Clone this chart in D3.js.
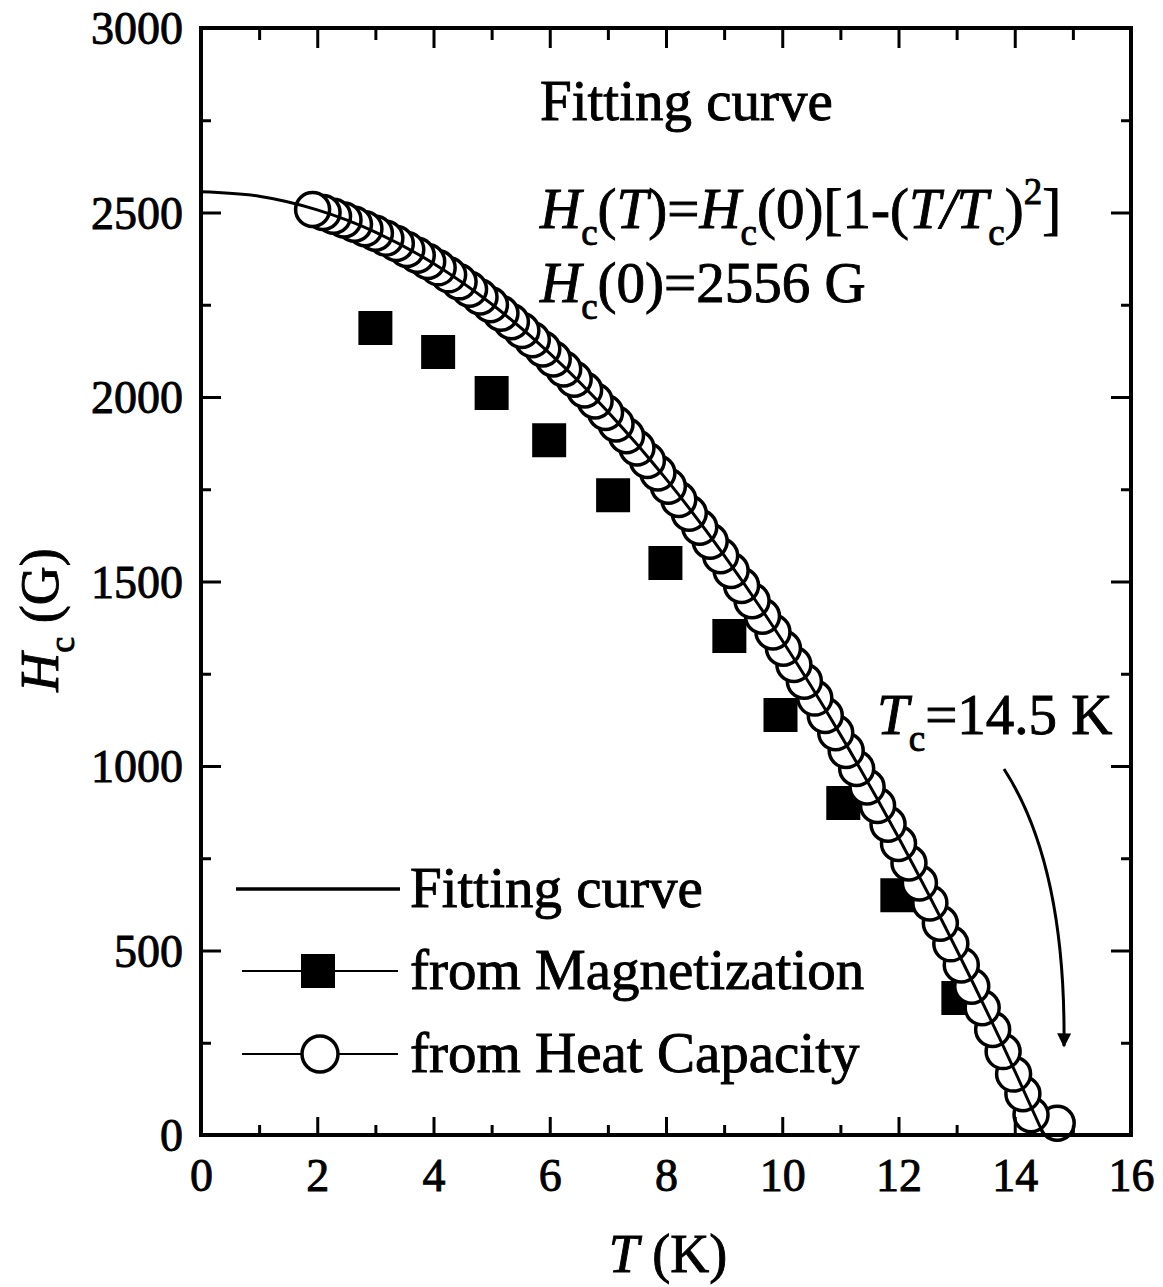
<!DOCTYPE html>
<html>
<head>
<meta charset="utf-8">
<script src="https://cdn.jsdelivr.net/npm/d3@7"></script>
<style>
  body { margin: 0; background: #fff; }
  svg text { font-family: "Liberation Serif", "Times New Roman", serif; fill: #000; stroke: #000; stroke-width: 0.9px; }
</style>
</head>
<body>
<svg id="chart" width="1163" height="1287"></svg>
<script>
// magnetization data (T in K, Hc in G)
var magT = [3.0, 4.08, 5.0, 5.99, 7.09, 7.99, 9.09, 9.97, 11.05, 11.98, 13.03];
var magH = [2187, 2122, 2011, 1883, 1734, 1550, 1352, 1138, 900, 650, 371];

// heat capacity data
var heatT = [1.92, 2.10, 2.28, 2.46, 2.64, 2.82, 3.00, 3.18, 3.36, 3.54,
             3.72, 3.90, 4.08, 4.26, 4.44, 4.62, 4.80, 4.98, 5.16, 5.34,
             5.52, 5.70, 5.88, 6.06, 6.24, 6.42, 6.60, 6.78, 6.96, 7.14,
             7.32, 7.50, 7.68, 7.86, 8.04, 8.22, 8.40, 8.58, 8.76, 8.94,
             9.12, 9.30, 9.48, 9.66, 9.84, 10.02, 10.20, 10.38, 10.56, 10.74,
             10.92, 11.10, 11.28, 11.46, 11.64, 11.82, 12.00, 12.18, 12.36, 12.54,
             12.72, 12.90, 13.08, 13.26, 13.44, 13.62, 13.80, 13.98, 14.14, 14.28, 14.73];
var heatH = [2508, 2500, 2490, 2480, 2468, 2456, 2444, 2430, 2416, 2400,
             2384, 2367, 2350, 2331, 2312, 2292, 2271, 2250, 2227, 2204,
             2180, 2155, 2130, 2103, 2076, 2048, 2019, 1989, 1958, 1927,
             1895, 1862, 1828, 1794, 1758, 1722, 1685, 1647, 1609, 1570,
             1530, 1489, 1448, 1406, 1363, 1319, 1275, 1230, 1184, 1137,
             1090, 1042, 993, 943, 893, 842, 790, 737, 683, 629,
             574, 518, 461, 403, 345, 286, 226, 165, 112, 55, 32];

// fitting curve
var fitT = [0, 1, 2, 3, 4, 5, 6, 7, 8, 9, 10, 11, 12, 13, 14, 14.5];
var fitH = [2556, 2544, 2507, 2447, 2362, 2252, 2118, 1960, 1778, 1571, 1340, 1085, 806, 502, 174, 0];

var xMajor = [0, 2, 4, 6, 8, 10, 12, 14, 16];
var xMinor = [1, 3, 5, 7, 9, 11, 13, 15];
var yMajor = [0, 500, 1000, 1500, 2000, 2500, 3000];
var yMinor = [250, 750, 1250, 1750, 2250, 2750];

var svg = d3.select("#chart");
var x = d3.scaleLinear().domain([0, 16]).range([201, 1131]);
var y = d3.scaleLinear().domain([0, 3000]).range([1135, 28]);

var g = svg.append("g");

// magnetization squares
g.selectAll("path.sq")
  .data(magT.map(function(t, i){ return [t, magH[i]]; }))
  .enter().append("path")
  .attr("class", "sq")
  .attr("d", d3.symbol(d3.symbolSquare, 34 * 34))
  .attr("transform", function(d){ return "translate(" + x(d[0]) + "," + y(d[1]) + ")"; })
  .attr("fill", "#000");

// heat capacity circles, drawn from high T so low T sits on top
var heat = heatT.map(function(t, i){ return [t, heatH[i]]; }).reverse();
g.selectAll("circle.hc")
  .data(heat)
  .enter().append("circle")
  .attr("class", "hc")
  .attr("cx", function(d){ return x(d[0]); })
  .attr("cy", function(d){ return y(d[1]); })
  .attr("r", 17)
  .attr("fill", "#fff")
  .attr("stroke", "#000")
  .attr("stroke-width", 3.5);

// fit line drawn over the circles
var line = d3.line()
  .x(function(d){ return x(d[0]); })
  .y(function(d){ return y(d[1]); })
  .curve(d3.curveMonotoneX);
g.append("path")
  .datum(fitT.map(function(t, i){ return [t, fitH[i]]; }))
  .attr("d", line)
  .attr("fill", "none")
  .attr("stroke", "#000")
  .attr("stroke-width", 3);

// axes
function styleAxis(sel){
  sel.select(".domain").remove();
  sel.selectAll("line").attr("stroke", "#000").attr("stroke-width", 3);
  sel.selectAll("text").attr("font-size", 46);
}
var bottom = svg.append("g").attr("transform", "translate(0,1135)")
  .call(d3.axisBottom(x).tickValues(xMajor).tickSize(-18).tickPadding(56).tickFormat(d3.format("d")));
styleAxis(bottom);
bottom.selectAll("text").attr("dy", 0);
var bottomMinor = svg.append("g").attr("transform", "translate(0,1135)")
  .call(d3.axisBottom(x).tickValues(xMinor).tickSize(-10).tickFormat(""));
styleAxis(bottomMinor);

var top_ = svg.append("g").attr("transform", "translate(0,28)")
  .call(d3.axisTop(x).tickValues(xMajor).tickSize(-20).tickFormat(""));
styleAxis(top_);
var topMinor = svg.append("g").attr("transform", "translate(0,28)")
  .call(d3.axisTop(x).tickValues(xMinor).tickSize(-12).tickFormat(""));
styleAxis(topMinor);

var left = svg.append("g").attr("transform", "translate(201,0)")
  .call(d3.axisLeft(y).tickValues(yMajor).tickSize(-20).tickPadding(18).tickFormat(d3.format("d")));
styleAxis(left);
left.selectAll("text").attr("dy", "0.34em");
var leftMinor = svg.append("g").attr("transform", "translate(201,0)")
  .call(d3.axisLeft(y).tickValues(yMinor).tickSize(-10).tickFormat(""));
styleAxis(leftMinor);

var right = svg.append("g").attr("transform", "translate(1131,0)")
  .call(d3.axisRight(y).tickValues(yMajor).tickSize(-20).tickFormat(""));
styleAxis(right);
var rightMinor = svg.append("g").attr("transform", "translate(1131,0)")
  .call(d3.axisRight(y).tickValues(yMinor).tickSize(-10).tickFormat(""));
styleAxis(rightMinor);

// frame
svg.append("rect")
  .attr("x", 201).attr("y", 28).attr("width", 930).attr("height", 1107)
  .attr("fill", "none").attr("stroke", "#000").attr("stroke-width", 4);

// axis titles
var xt = svg.append("text").attr("x", 668).attr("y", 1272).attr("text-anchor", "middle").attr("font-size", 54);
xt.append("tspan").attr("font-style", "italic").text("T");
xt.append("tspan").text(" (K)");

var yt = svg.append("text").attr("transform", "translate(58,620) rotate(-90)").attr("text-anchor", "middle").attr("font-size", 54);
yt.append("tspan").attr("font-style", "italic").text("H");
yt.append("tspan").attr("font-size", 36).attr("dy", 16).text("c");
yt.append("tspan").attr("dy", -16).text(" (G)");

// annotations
var FS = 57;
function sub(t, s){ t.append("tspan").attr("font-size", 37).attr("dy", 17).text(s); }
svg.append("text").attr("x", 540).attr("y", 120).attr("font-size", FS).text("Fitting curve");

var f1 = svg.append("text").attr("x", 540).attr("y", 228).attr("font-size", FS);
f1.append("tspan").attr("font-style", "italic").text("H");
sub(f1, "c");
f1.append("tspan").attr("dy", -17).text("(");
f1.append("tspan").attr("font-style", "italic").text("T");
f1.append("tspan").text(")=");
f1.append("tspan").attr("font-style", "italic").text("H");
sub(f1, "c");
f1.append("tspan").attr("dy", -17).text("(0)[1-(");
f1.append("tspan").attr("font-style", "italic").text("T/T");
sub(f1, "c");
f1.append("tspan").attr("dy", -17).text(")");
f1.append("tspan").attr("font-size", 37).attr("dy", -24).text("2");
f1.append("tspan").attr("dy", 24).text("]");

var f2 = svg.append("text").attr("x", 540).attr("y", 302).attr("font-size", FS);
f2.append("tspan").attr("font-style", "italic").text("H");
sub(f2, "c");
f2.append("tspan").attr("dy", -17).text("(0)=2556 G");

var tc = svg.append("text").attr("x", 877).attr("y", 734).attr("font-size", FS);
tc.append("tspan").attr("font-style", "italic").text("T");
sub(tc, "c");
tc.append("tspan").attr("dy", -17).text("=14.5 K");

// arrow
svg.append("defs").append("marker")
  .attr("id", "ah").attr("viewBox", "0 0 10 10").attr("refX", 9).attr("refY", 5)
  .attr("markerWidth", 30).attr("markerHeight", 14).attr("markerUnits", "userSpaceOnUse")
  .attr("orient", "auto")
  .append("path").attr("d", "M0,0 L10,5 L0,10 z").attr("fill", "#000");
svg.append("path")
  .attr("d", "M1004,769 Q1066,865 1064,1046")
  .attr("fill", "none").attr("stroke", "#000").attr("stroke-width", 3)
  .attr("marker-end", "url(#ah)");

// legend
var legY = [889, 971, 1054];
var leg = svg.append("g");
leg.append("line").attr("x1", 236).attr("x2", 400).attr("y1", legY[0]).attr("y2", legY[0])
  .attr("stroke", "#000").attr("stroke-width", 3.5);
leg.append("line").attr("x1", 242).attr("x2", 398).attr("y1", legY[1]).attr("y2", legY[1])
  .attr("stroke", "#000").attr("stroke-width", 2);
leg.append("path").attr("d", d3.symbol(d3.symbolSquare, 34 * 34))
  .attr("transform", "translate(318," + legY[1] + ")").attr("fill", "#000");
leg.append("line").attr("x1", 242).attr("x2", 398).attr("y1", legY[2]).attr("y2", legY[2])
  .attr("stroke", "#000").attr("stroke-width", 2);
leg.append("circle").attr("cx", 320).attr("cy", legY[2]).attr("r", 18)
  .attr("fill", "#fff").attr("stroke", "#000").attr("stroke-width", 3.5);
var legText = ["Fitting curve", "from Magnetization", "from Heat Capacity"];
leg.selectAll("text.lt").data(legText).enter().append("text")
  .attr("class", "lt")
  .attr("x", 410).attr("y", function(d, i){ return legY[i] + 18; })
  .attr("font-size", FS)
  .text(function(d){ return d; });
</script>
</body>
</html>
